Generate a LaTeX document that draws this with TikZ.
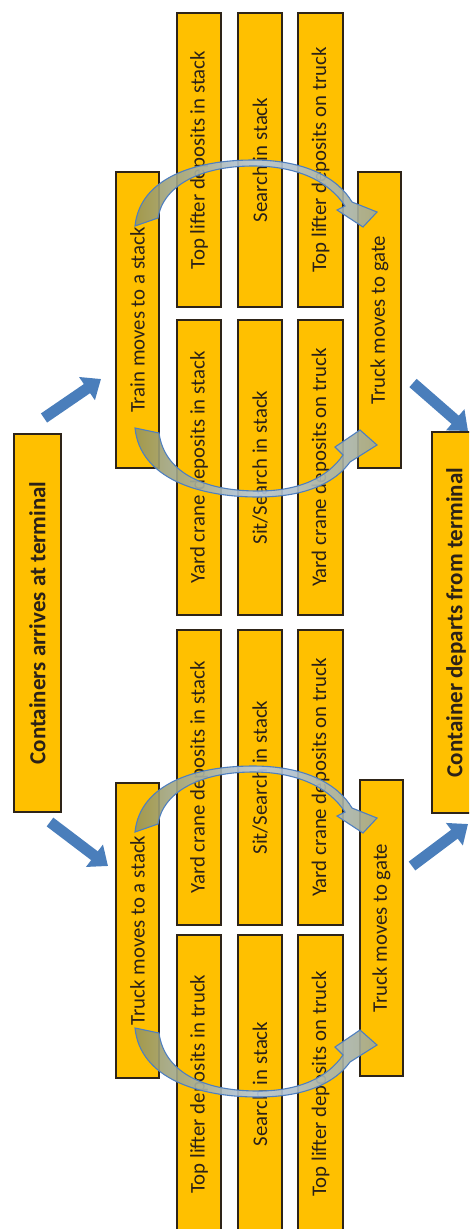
\documentclass[tikz,border=0pt]{standalone}
\usepackage{fontspec}
\setmainfont{Carlito}
\usetikzlibrary{arrows.meta}
\definecolor{boxfill}{HTML}{FFC000}
\definecolor{boxline}{HTML}{2E2418}
\definecolor{txt}{HTML}{2B2118}
\definecolor{arrblue}{HTML}{4A7EBB}
\definecolor{arcline}{HTML}{4F7FBF}
\definecolor{arcolive}{HTML}{9A9656}
\definecolor{arcblue}{HTML}{B4C9E6}
\tikzset{
  stbox/.style={draw=boxline, fill=boxfill, line width=1.6pt, rotate=90, inner sep=0pt,
    text=txt, font=\fontsize{20.8}{24}\selectfont},
  bigbox/.style={stbox, font=\fontsize{23}{27}\selectfont\bfseries},
  blockarrow/.style={line width=11pt, draw=arrblue, -{Triangle[width=27pt,length=17pt]}},
  arcstyle/.style={draw=arcline, line width=1.1pt, fill opacity=0.9,
    left color=arcolive, right color=arcolive!60!arcblue, middle color=arcblue},
  uparc/.pic={
    \path[arcstyle] (135,226) .. controls (140,178) and (195,160) .. (253,160)
      .. controls (305,160) and (338,178) .. (352,202) -- (377,212) -- (363,227)
      -- (337,210) -- (345,206) .. controls (330,183) and (300,166) .. (253,166)
      .. controls (200,166) and (163,186) .. (158,218) -- cycle;
  },
  lowarc/.pic={
    \path[arcstyle] (135,428) .. controls (140,478) and (198,497) .. (258,497)
      .. controls (305,497) and (335,483) .. (350,462) -- (377,445) -- (360,430)
      -- (335,447) -- (343,455) .. controls (328,477) and (300,491) .. (258,491)
      .. controls (200,491) and (164,470) .. (159,433) -- cycle;
  }
}
\begin{document}
\begin{tikzpicture}[x=1pt,y=-1pt]
\useasboundingbox (0,0) rectangle (469,1229);
\clip (0,0) rectangle (469,1229);

% terminal boxes
\node[bigbox, minimum width=378pt, minimum height=47pt] (arrive) at (37.5,623) {Containers arrives at terminal};
\node[bigbox, minimum width=381pt, minimum height=48pt] (depart) at (456,622.5) {Container departs from terminal};

% top group (train)
\node[stbox, minimum width=296pt, minimum height=43pt] (train) at (137.5,320) {Train moves to a stack};
\node[stbox, minimum width=294pt, minimum height=44pt] (t1u) at (199,160) {Top lifter deposits in stack};
\node[stbox, minimum width=294pt, minimum height=44pt] (t2u) at (260,160) {Search in stack};
\node[stbox, minimum width=294pt, minimum height=45pt] (t3u) at (320.5,160) {Top lifter deposits on truck};
\node[stbox, minimum width=295pt, minimum height=44pt] (t1l) at (199,467.5) {Yard crane deposits in stack};
\node[stbox, minimum width=295pt, minimum height=44pt] (t2l) at (260,467.5) {Sit/Search in stack};
\node[stbox, minimum width=295pt, minimum height=45pt] (t3l) at (320.5,467.5) {Yard crane deposits on truck};
\node[stbox, minimum width=296pt, minimum height=43pt] (tgate) at (379.5,320) {Truck moves to gate};

% bottom group (truck)
\node[stbox, minimum width=295pt, minimum height=43pt] (truck) at (137.5,930.5) {Truck moves to a stack};
\node[stbox, minimum width=295pt, minimum height=44pt] (b1u) at (199,777.5) {Yard crane deposits in stack};
\node[stbox, minimum width=295pt, minimum height=44pt] (b2u) at (260,777.5) {Sit/Search in stack};
\node[stbox, minimum width=295pt, minimum height=45pt] (b3u) at (320.5,777.5) {Yard crane deposits on truck};
\node[stbox, minimum width=298pt, minimum height=44pt] (b1l) at (199,1084) {Top lifter deposits in truck};
\node[stbox, minimum width=298pt, minimum height=44pt] (b2l) at (260,1084) {Search in stack};
\node[stbox, minimum width=298pt, minimum height=45pt] (b3l) at (320.5,1084) {Top lifter deposits on truck};
\node[stbox, minimum width=296pt, minimum height=43pt] (bgate) at (381.5,928) {Truck moves to gate};

% curved arrows
\pic at (0,0) {uparc};
\pic at (0,0) {lowarc};
\pic at (0,606) {uparc};
\pic at (0,600) {lowarc};

% straight block arrows
\coordinate (a1s) at (44,418);  \coordinate (a1e) at (101,379);
\coordinate (a2s) at (413,383); \coordinate (a2e) at (468,431);
\coordinate (a3s) at (50,822);  \coordinate (a3e) at (108,866);
\coordinate (a4s) at (412,866); \coordinate (a4e) at (468,824);
\draw[blockarrow] (a1s) -- (a1e);
\draw[blockarrow] (a2s) -- (a2e);
\draw[blockarrow] (a3s) -- (a3e);
\draw[blockarrow] (a4s) -- (a4e);
\end{tikzpicture}
\end{document}
